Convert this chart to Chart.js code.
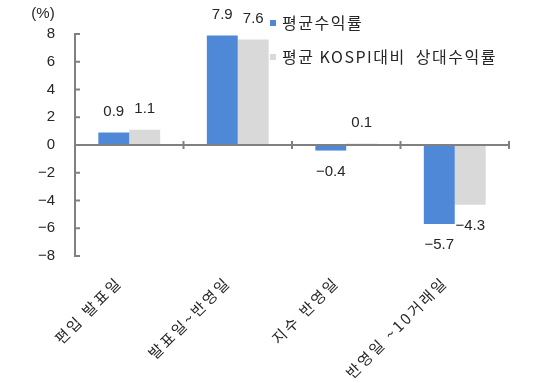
<!DOCTYPE html>
<html><head><meta charset="utf-8">
<script src="https://cdn.jsdelivr.net/npm/chart.js@4/dist/chart.umd.min.js"></script>
<style>html,body{margin:0;padding:0;background:#fff}</style>
</head><body>
<canvas id="c" width="540" height="383" style="width:540px;height:383px;display:block"></canvas>
<script>
const categories = ['편입 발표일', '발표일~반영일', '지수 반영일', '반영일 ~10거래일'];
const seriesNames = ['평균수익률', '평균 KOSPI대비  상대수익률'];
const avgReturn = [0.9, 7.9, -0.4, -5.7];
const relReturn = [1.1, 7.6, 0.1, -4.3];
const yMin = -8, yMax = 8, yStep = 2;
const unitLabel = '(%)';

const FONT = "'Liberation Sans', 'Noto Sans CJK KR', sans-serif";
const KFONT = "'Noto Sans CJK KR', 'Liberation Sans', sans-serif";
const TXT = '#262626';
const AXIS = '#808080';
const colors = ['#4F88D6', '#D9D9D9'];

function fmt(v) { return v < 0 ? '\u2212' + Math.abs(v) : String(v); }

const decor = {
  id: 'decor',
  afterDatasetsDraw(chart) {
    const ctx = chart.ctx, x = chart.scales.x, y = chart.scales.y, ca = chart.chartArea;
    ctx.save();
    ctx.letterSpacing = '0px';
    ctx.strokeStyle = AXIS; ctx.lineWidth = 2;
    const y0 = y.getPixelForValue(0);
    ctx.beginPath(); ctx.moveTo(ca.left, y0); ctx.lineTo(ca.right, y0); ctx.stroke();
    const n = categories.length;
    const step = x.getPixelForValue(1) - x.getPixelForValue(0);
    for (let i = 0; i < n; i++) {
      const px = x.getPixelForValue(i) + step / 2;
      ctx.beginPath(); ctx.moveTo(px, y0 - 4); ctx.lineTo(px, y0 + 4); ctx.stroke();
    }
    for (let v = yMin; v <= yMax; v += yStep) {
      const py = y.getPixelForValue(v);
      ctx.beginPath(); ctx.moveTo(ca.left, py); ctx.lineTo(ca.left + 5, py); ctx.stroke();
    }
    ctx.font = '15px ' + FONT; ctx.fillStyle = TXT;
    ctx.textAlign = 'center'; ctx.textBaseline = 'middle';
    chart.data.datasets.forEach((ds, di) => {
      chart.getDatasetMeta(di).data.forEach((bar, i) => {
        const v = ds.data[i];
        const ly = v >= 0 ? bar.y - 21 : bar.y + 21;
        ctx.fillText(fmt(v), bar.x, ly);
      });
    });
    ctx.fillText(unitLabel, 43, 14);
    ctx.textAlign = 'left';
    ctx.font = '16px ' + KFONT;
    ctx.letterSpacing = '1.5px';
    const lx = ca.left + 195, lys = [23, 57];
    chart.data.datasets.forEach((ds, di) => {
      ctx.fillStyle = ds.backgroundColor;
      ctx.fillRect(lx, lys[di] - 3, 6, 6);
      ctx.fillStyle = TXT;
      ctx.fillText(ds.label, lx + 12, lys[di]);
    });
    ctx.restore();
    // spacing for the category labels (x tick layer is drawn after this hook)
    ctx.letterSpacing = '2.5px';
  },
  afterDraw(chart) { chart.ctx.letterSpacing = '0px'; }
};

new Chart(document.getElementById('c'), {
  type: 'bar',
  data: {
    labels: categories,
    datasets: [
      { label: seriesNames[0], data: avgReturn, backgroundColor: colors[0] },
      { label: seriesNames[1], data: relReturn, backgroundColor: colors[1] }
    ]
  },
  options: {
    responsive: false,
    animation: false,
    devicePixelRatio: 1,
    layout: { padding: { top: 34, right: 31, left: 0, bottom: 0 } },
    datasets: { bar: { categoryPercentage: 0.57, barPercentage: 1.0 } },
    plugins: { legend: { display: false }, tooltip: { enabled: false } },
    scales: {
      x: {
        grid: { display: false, drawTicks: false },
        border: { display: false },
        ticks: { z: 1, minRotation: 45, maxRotation: 45, padding: 17, labelOffset: -10, color: TXT, font: { family: KFONT, size: 15 } },
        afterFit(s) { s.height = 127; }
      },
      y: {
        min: yMin, max: yMax,
        grid: { display: false, drawTicks: false },
        border: { display: true, color: AXIS, width: 2 },
        ticks: { stepSize: yStep, padding: 20, color: TXT, font: { family: FONT, size: 15 }, callback: v => fmt(v) },
        afterFit(s) { s.width = 75; }
      }
    }
  },
  plugins: [decor]
});
</script>
</body></html>
